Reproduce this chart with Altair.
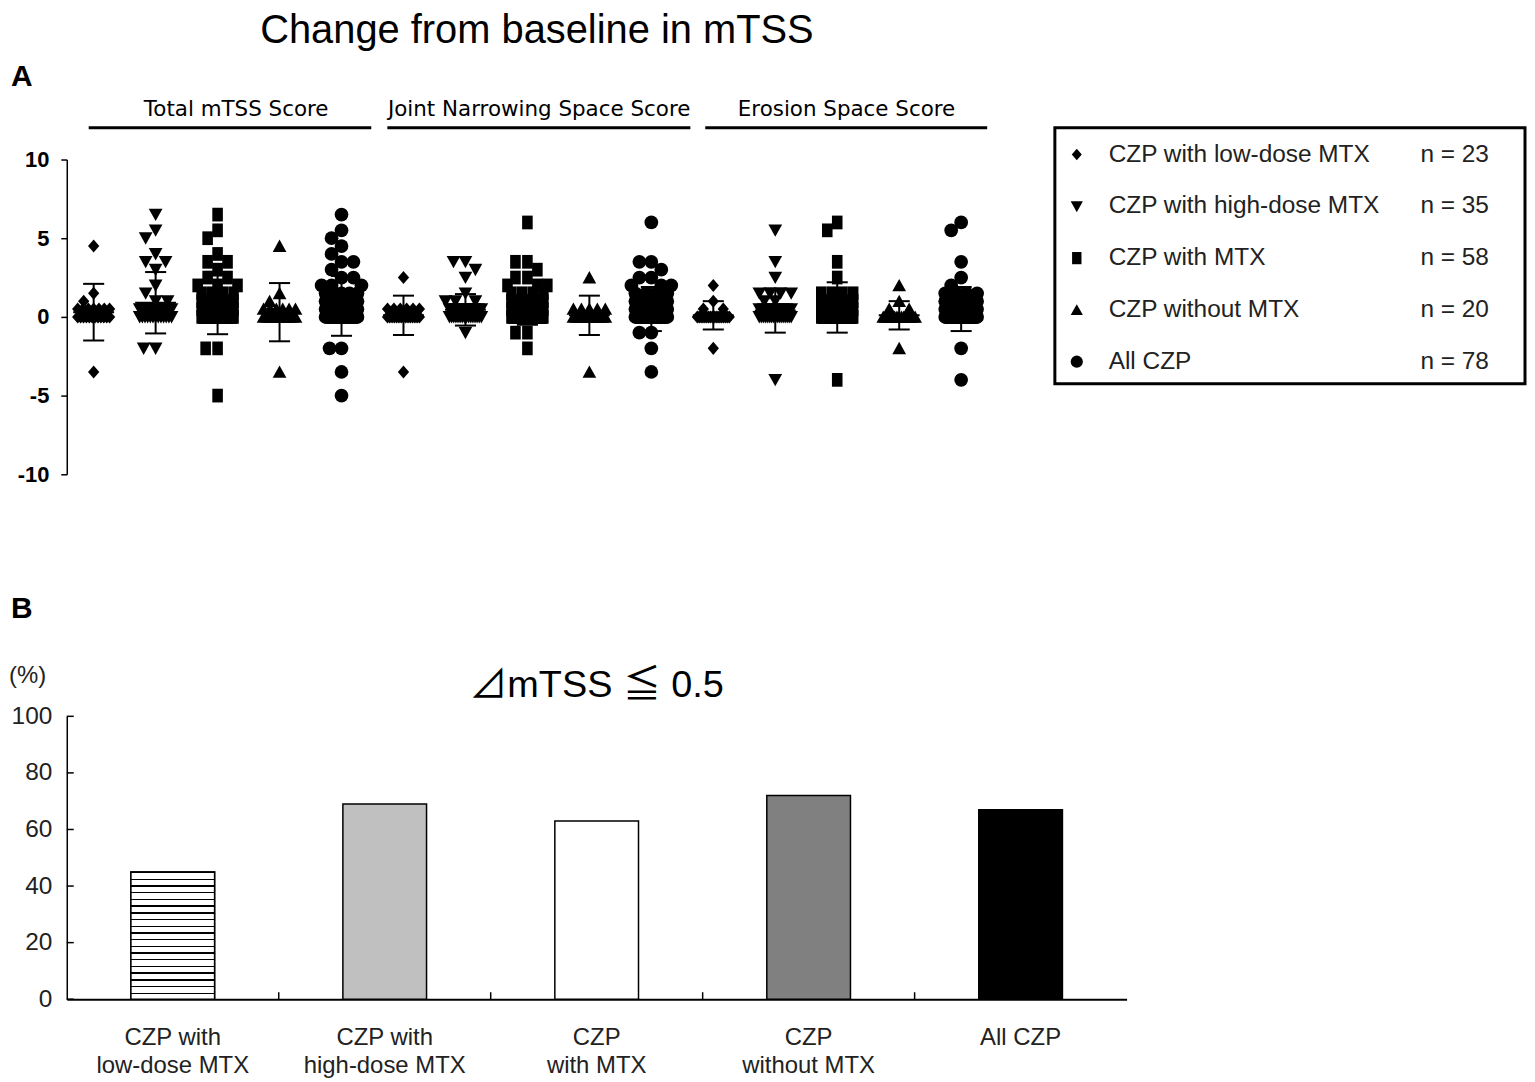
import altair as alt
import pandas as pd

groups = ["Total mTSS Score", "Joint Narrowing Space Score", "Erosion Space Score"]
series = ["CZP with low-dose MTX", "CZP with high-dose MTX", "CZP with MTX",
          "CZP without MTX", "All CZP"]
series_n = [23, 35, 58, 20, 78]
y_ticks = [-10, -5, 0, 5, 10]

# change from baseline -> number of patients
total_low = {4.5: 1, 1.5: 1, 1.0: 1, 0.5: 7, 0.0: 12, -3.5: 1}
total_high = {6.5: 1, 5.5: 1, 5.0: 1, 4.0: 1, 3.5: 2, 3.0: 1, 2.0: 1, 1.5: 1,
              1.0: 2, 0.5: 9, 0.0: 13, -2.0: 2}
total_mtx = {6.5: 1, 5.5: 1, 5.0: 1, 4.0: 1, 3.5: 2, 3.0: 1, 2.5: 2, 2.0: 3,
             1.5: 4, 1.0: 7, 0.5: 12, 0.0: 20, -2.0: 2, -5.0: 1}
total_wo = {4.5: 1, 1.5: 1, 1.0: 1, 0.5: 6, 0.0: 10, -3.5: 1}
total_all = {6.5: 1, 5.5: 1, 5.0: 1, 4.5: 1, 4.0: 1, 3.5: 2, 3.0: 1, 2.5: 2,
             2.0: 3, 1.5: 5, 1.0: 8, 0.5: 14, 0.0: 34, -2.0: 2, -3.5: 1, -5.0: 1}

jsn_low = {2.5: 1, 0.5: 6, 0.0: 15, -3.5: 1}
jsn_high = {3.5: 2, 3.0: 1, 2.5: 1, 1.5: 1, 1.0: 3, 0.5: 10, 0.0: 16, -1.0: 1}
jsn_mtx = {6.0: 1, 3.5: 2, 3.0: 1, 2.5: 2, 2.0: 3, 1.5: 4, 1.0: 6, 0.5: 12,
           0.0: 24, -1.0: 2, -2.0: 1}
jsn_wo = {2.5: 1, 0.5: 5, 0.0: 13, -3.5: 1}
jsn_all = {6.0: 1, 3.5: 2, 3.0: 1, 2.5: 2, 2.0: 3, 1.5: 4, 1.0: 7, 0.5: 16,
           0.0: 38, -1.0: 2, -2.0: 1, -3.5: 1}

ero_low = {2.0: 1, 1.0: 1, 0.5: 2, 0.0: 18, -2.0: 1}
ero_high = {5.5: 1, 3.5: 1, 2.5: 1, 1.5: 4, 1.0: 2, 0.5: 8, 0.0: 17, -4.0: 1}
ero_mtx = {6.0: 1, 5.5: 1, 3.5: 1, 2.5: 1, 1.5: 4, 1.0: 6, 0.5: 14, 0.0: 29, -4.0: 1}
ero_wo = {2.0: 1, 1.0: 1, 0.5: 2, 0.0: 15, -2.0: 1}
ero_all = {6.0: 1, 5.5: 1, 3.5: 1, 2.5: 1, 2.0: 1, 1.5: 4, 1.0: 6, 0.5: 16,
           0.0: 45, -2.0: 1, -4.0: 1}

# mean and SD per column
total_mean = [0.3, 0.9, 0.8, 0.3, 0.7]
total_sd = [1.8, 1.95, 1.9, 1.85, 1.9]
jsn_mean = [0.1, 0.45, 0.45, 0.1, 0.5]
jsn_sd = [1.25, 1.0, 0.95, 1.25, 1.4]
ero_mean = [0.1, 0.4, 0.6, 0.1, 0.5]
ero_sd = [0.9, 1.4, 1.6, 0.9, 1.4]

# panel B
bar_labels = ["CZP with|low-dose MTX", "CZP with|high-dose MTX", "CZP|with MTX",
              "CZP|without MTX", "All CZP"]
bar_pct = [45, 69, 63, 72, 67]
pct_ticks = [0, 20, 40, 60, 80, 100]

# styling
bar_colors = ["white", "#c0c0c0", "white", "#808080", "black"]
shapes = ["M0,-0.95L0.82,0L0,0.95L-0.82,0Z",       # diamond
          "M-1,-0.85L1,-0.85L0,0.95Z",             # triangle down
          "M-0.77,-1L0.77,-1L0.77,1L-0.77,1Z",     # tall square
          "M-1,0.85L1,0.85L0,-0.95Z",              # triangle up
          "circle"]
line_start = [-0.08, 4.74, 9.87]
line_end = [4.48, 9.63, 14.42]
label_center = [2.3, 7.19, 12.15]
font = "Liberation Sans"

# ---------------- panel A ----------------
columns = [[total_low, total_high, total_mtx, total_wo, total_all],
           [jsn_low, jsn_high, jsn_mtx, jsn_wo, jsn_all],
           [ero_low, ero_high, ero_mtx, ero_wo, ero_all]]
means = [total_mean, jsn_mean, ero_mean]
sds = [total_sd, jsn_sd, ero_sd]

PX_X, PX_Y, GAP = 62.2, 15.8, 12.0   # px per unit on x / y, marker spacing


def swarm(counts):
    """Horizontal offsets (x units) for a dot column, Prism-like scatter."""
    placed, out = [], []
    for v in sorted(counts, reverse=True):
        k = counts[v]
        y = v * PX_Y
        if k >= 4:
            step = min(18.0, 32.0 / (k - 1))
            offs = [(j - (k - 1) / 2) * step for j in range(k)]
        else:
            offs = []
            cands = sorted(range(-20, 21), key=lambda o: (abs(o), o))
            for _ in range(k):
                best, best_d = 0, -1.0
                for o in cands:
                    d = min([((o - px) ** 2 + (y - py) ** 2) ** 0.5 for px, py in placed]
                            + [99.0])
                    if d >= GAP:
                        best = o
                        break
                    if d > best_d:
                        best, best_d = o, d
                offs.append(best)
                placed.append((best, y))
            out += [(v, o / PX_X) for o in offs]
            continue
        placed += [(o, y) for o in offs]
        out += [(v, o / PX_X) for o in offs]
    return out


rows, ev, eh = [], [], []
for g, cols in enumerate(columns):
    for s, counts in enumerate(cols):
        c = 5 * g + s
        for v, off in swarm(counts):
            rows.append({"series": series[s], "col": c + off, "value": v})
        m, sd = means[g][s], sds[g][s]
        ev.append({"col": c, "lo": m - sd, "hi": m + sd})
        eh.append({"x1": c - 0.33, "x2": c + 0.33, "y": m})
        eh.append({"x1": c - 0.17, "x2": c + 0.17, "y": m - sd})
        eh.append({"x1": c - 0.17, "x2": c + 0.17, "y": m + sd})

pts = pd.DataFrame(rows)
ev = pd.DataFrame(ev)
eh = pd.DataFrame(eh)
grp = pd.DataFrame({"group": groups, "center": label_center,
                    "start": line_start, "end": line_end})

xs = alt.Scale(domain=[-0.434, 14.58], nice=False, zero=False)
ys = alt.Scale(domain=[-10, 10], nice=False, zero=False)
shape_scale = alt.Scale(domain=series, range=shapes)
y_axis = alt.Axis(values=y_ticks, title=None, grid=False, domainColor="black",
                  domainWidth=1.5, tickColor="black", tickWidth=1.5, tickSize=6,
                  labelFont=font, labelFontWeight="bold", labelFontSize=22,
                  labelColor="black", labelPadding=12, labelExpr="'' + datum.value")

one = pd.DataFrame({"k": [0]})

title_a = alt.Chart(one).mark_text(font=font, fontSize=40, color="black",
                                   align="center").encode(
    x=alt.value(472), y=alt.value(-129), text=alt.value("Change from baseline in mTSS"))
letter_a = alt.Chart(one).mark_text(font=font, fontSize=30, fontWeight="bold",
                                    color="black", align="left").encode(
    x=alt.value(-56), y=alt.value(-83), text=alt.value("A"))

group_txt = alt.Chart(grp).mark_text(font="DejaVu Sans", fontSize=21.5, color="black").encode(
    x=alt.X("center:Q", scale=xs, axis=None), y=alt.value(-50), text="group:N")
group_line = alt.Chart(grp).mark_rule(color="black", strokeWidth=3).encode(
    x=alt.X("start:Q", scale=xs, axis=None), x2="end:Q", y=alt.value(-32))

points = alt.Chart(pts).mark_point(filled=True, color="black", opacity=1, size=190).encode(
    x=alt.X("col:Q", scale=xs, axis=None),
    y=alt.Y("value:Q", scale=ys, axis=y_axis),
    shape=alt.Shape("series:N", scale=shape_scale, legend=None))

err_v = alt.Chart(ev).mark_rule(color="black", strokeWidth=2).encode(
    x=alt.X("col:Q", scale=xs, axis=None),
    y=alt.Y("lo:Q", scale=ys, axis=y_axis), y2="hi:Q")
err_h = alt.Chart(eh).mark_rule(color="black", strokeWidth=2).encode(
    x=alt.X("x1:Q", scale=xs, axis=None), x2="x2:Q",
    y=alt.Y("y:Q", scale=ys, axis=y_axis))

scatter = alt.layer(title_a, letter_a, group_line, group_txt, points, err_v, err_h)

# legend box with its own row scale
leg = pd.DataFrame({"series": series, "n": [f"n = {n}" for n in series_n]})
row_y = alt.Y("series:N", scale=alt.Scale(domain=series, range=[-5, 203], padding=0),
              axis=None)
box = alt.Chart(one).mark_rect(fillOpacity=0, stroke="black", strokeWidth=3).encode(
    x=alt.value(992), x2=alt.value(1464), y=alt.value(-32), y2=alt.value(225))
leg_sym = alt.Chart(leg).mark_point(filled=True, color="black", opacity=1, size=150).encode(
    x=alt.value(1014), y=row_y,
    shape=alt.Shape("series:N", scale=shape_scale, legend=None))
leg_lab = alt.Chart(leg).mark_text(font=font, fontSize=24.5, color="#222", align="left",
                                   baseline="middle").encode(
    x=alt.value(1046), y=row_y, text="series:N")
leg_n = alt.Chart(leg).mark_text(font=font, fontSize=24.5, color="#222", align="left",
                                 baseline="middle").encode(
    x=alt.value(1359), y=row_y, text="n:N")
legend = alt.layer(box, leg_sym, leg_lab, leg_n)

panel_a = alt.layer(scatter, legend).resolve_scale(
    y="independent", shape="independent").properties(width=934, height=316)

# ---------------- panel B ----------------
dfb = pd.DataFrame({"label": bar_labels, "pct": bar_pct})
band = alt.Scale(domain=bar_labels, paddingInner=0, paddingOuter=0)
x_axis_b = alt.Axis(title=None, labelAngle=0, labelExpr="split(datum.label, '|')",
                    ticks=False, tickSize=0, domainColor="black", domainWidth=2,
                    labelFont=font, labelFontSize=24, labelColor="#222",
                    labelPadding=26, labelLineHeight=29, labelBaseline="top")
y_axis_b = alt.Axis(values=pct_ticks, title=None, grid=False, ticks=False, tickSize=0,
                    domainColor="black", domainWidth=1.5, labelFont=font,
                    labelFontSize=24.5, labelColor="#222", labelPadding=15)
ysb = alt.Scale(domain=[0, 100], nice=False)

stops = []
n_stripes = 19
for k in range(n_stripes):
    a = k / n_stripes
    e = (k + 1) / n_stripes
    stops += [alt.GradientStop(color="black", offset=a),
              alt.GradientStop(color="black", offset=a + 0.22 / n_stripes),
              alt.GradientStop(color="white", offset=a + 0.22 / n_stripes),
              alt.GradientStop(color="white", offset=e)]
stripes = alt.Gradient(gradient="linear", stops=stops, x1=0, x2=0, y1=0, y2=1)

bars = alt.Chart(dfb).mark_bar(size=84, stroke="black", strokeWidth=1.5).encode(
    x=alt.X("label:N", scale=band, axis=x_axis_b),
    y=alt.Y("pct:Q", scale=ysb, axis=y_axis_b),
    fill=alt.Fill("label:N", scale=alt.Scale(domain=bar_labels, range=bar_colors),
                  legend=None))
hatched = alt.Chart(dfb).transform_filter(
    alt.datum.label == bar_labels[0]
).mark_bar(size=84, stroke="black", strokeWidth=1.5, fill=stripes).encode(
    x=alt.X("label:N", scale=band, axis=x_axis_b),
    y=alt.Y("pct:Q", scale=ysb, axis=y_axis_b))

yticks_in = alt.Chart(pd.DataFrame({"pct": pct_ticks})).mark_rule(
    color="black", strokeWidth=1.5).encode(
    y=alt.Y("pct:Q", scale=ysb, axis=y_axis_b), x=alt.value(0), x2=alt.value(7))
xticks_in = alt.Chart(dfb.iloc[1:]).mark_rule(color="black", strokeWidth=1.5).encode(
    x=alt.X("label:N", scale=band, axis=x_axis_b, bandPosition=0),
    y=alt.value(284), y2=alt.value(277))

title_b = alt.Chart(one).mark_text(font="Liberation Sans, Noto Sans CJK JP", fontSize=38,
                                   color="black", align="center").encode(
    x=alt.value(532), y=alt.value(-30), text=alt.value("⊿mTSS ≦ 0.5"))
letter_b = alt.Chart(one).mark_text(font=font, fontSize=30, fontWeight="bold",
                                    color="black", align="left").encode(
    x=alt.value(-56), y=alt.value(-108), text=alt.value("B"))
pct_lab = alt.Chart(one).mark_text(font=font, fontSize=24, color="#222",
                                   align="left").encode(
    x=alt.value(-58), y=alt.value(-40), text=alt.value("(%)"))

panel_b = alt.layer(bars, hatched, yticks_in, xticks_in, title_b, letter_b, pct_lab
                    ).properties(width=1064, height=284)

chart = alt.vconcat(panel_a, panel_b, spacing=243, bounds="flush").properties(
    padding=0, background="white"
).configure_view(stroke="transparent")

chart.save("out.html", embed_options={"renderer": "svg", "actions": False})
